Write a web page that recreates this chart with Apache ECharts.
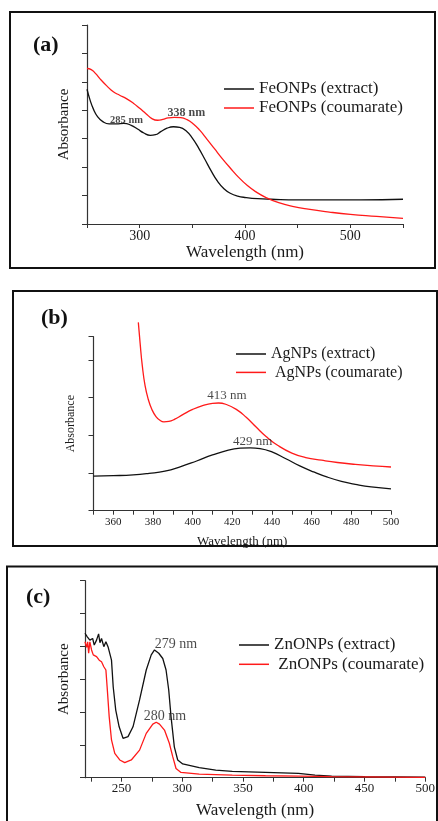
<!DOCTYPE html>
<html>
<head>
<meta charset="utf-8">
<script src="https://cdn.jsdelivr.net/npm/echarts@6/dist/echarts.min.js"></script>
<style>
  html, body { margin: 0; padding: 0; background: #fff; }
  #main { width: 438px; height: 821px; }
</style>
</head>
<body>
<div id="main"></div>
<script>
// (a) FeONPs
var feExtractX = [250, 253, 256, 260, 265, 271, 278, 285, 292, 298, 304, 310, 315, 320, 326, 332, 338, 344, 350, 356, 362, 368, 374, 380, 386, 393, 401, 412, 425, 450, 480, 510, 550];
var feExtractY = [4.74, 4.35, 4.05, 3.78, 3.60, 3.52, 3.52, 3.54, 3.47, 3.34, 3.20, 3.12, 3.14, 3.25, 3.37, 3.42, 3.40, 3.28, 3.02, 2.67, 2.27, 1.86, 1.50, 1.24, 1.08, 0.98, 0.93, 0.89, 0.87, 0.85, 0.85, 0.85, 0.87];
var feCoumX = [250, 254, 258, 263, 269, 275, 281, 287, 294, 300, 306, 312, 317, 322, 327, 333, 339, 345, 351, 357, 364, 371, 378, 386, 394, 402, 410, 420, 432, 445, 460, 480, 500, 525, 550];
var feCoumY = [5.47, 5.43, 5.30, 5.08, 4.85, 4.65, 4.53, 4.42, 4.25, 4.07, 3.88, 3.70, 3.65, 3.68, 3.73, 3.75, 3.74, 3.67, 3.52, 3.30, 2.98, 2.65, 2.32, 1.97, 1.64, 1.36, 1.14, 0.93, 0.75, 0.62, 0.52, 0.42, 0.34, 0.27, 0.20];

// (b) AgNPs
var agExtractX = [350, 360, 370, 378, 386, 394, 402, 410, 418, 424, 429, 434, 440, 447, 454, 461, 468, 475, 482, 490, 500];
var agExtractY = [0.92, 0.93, 0.95, 0.99, 1.05, 1.17, 1.32, 1.48, 1.61, 1.66, 1.67, 1.65, 1.56, 1.38, 1.19, 1.03, 0.89, 0.78, 0.70, 0.63, 0.58];
var agCoumX = [372.6, 373.5, 374.6, 376, 377.6, 379.5, 381.5, 383.5, 385.5, 388, 391, 395, 400, 405, 410, 413, 417, 422, 427, 432, 437, 443, 450, 457, 465, 473, 482, 491, 500];
var agCoumY = [5.0, 4.45, 3.85, 3.32, 2.96, 2.68, 2.50, 2.40, 2.36, 2.37, 2.43, 2.55, 2.69, 2.79, 2.85, 2.86, 2.82, 2.69, 2.48, 2.22, 1.97, 1.73, 1.53, 1.41, 1.34, 1.28, 1.23, 1.19, 1.16];

// (c) ZnONPs
var znExtractX = [220, 221.9, 224, 226.3, 227.6, 229.5, 231.2, 232.3, 233.6, 235.5, 237.2, 239.1, 240.4, 241.8, 243.2, 245.3, 248.1, 251.3, 255.4, 259.5, 264.9, 270.4, 274.5, 277.2, 278.6, 280.7, 284, 286.7, 288.9, 290.8, 293.5, 296.3, 300.4, 314, 327.6, 341.2, 368.5, 395.7, 409.3, 423, 450.2, 500];
var znExtractY = [4.40, 4.29, 4.19, 4.24, 4.04, 4.19, 4.38, 4.11, 4.24, 3.99, 4.14, 3.97, 3.91, 3.58, 2.77, 2.06, 1.55, 1.20, 1.25, 1.55, 2.37, 3.28, 3.74, 3.89, 3.94, 3.79, 3.63, 3.28, 2.67, 1.86, 0.94, 0.54, 0.42, 0.31, 0.23, 0.19, 0.16, 0.13, 0.08, 0.05, 0.03, 0.02];
var znCoumX = [220, 221.4, 222.2, 223, 224, 225.4, 226.8, 229.5, 231.7, 233.6, 235.5, 237.2, 238.2, 239.9, 241.8, 244.5, 248.6, 252.7, 258.1, 264.9, 270.4, 275.8, 278.6, 281.3, 285.4, 289.4, 292.2, 294.9, 299, 314, 341.2, 368.5, 395.7, 423, 500];
var znCoumY = [4.14, 3.97, 4.14, 3.79, 4.14, 3.89, 3.74, 3.69, 3.58, 3.53, 3.38, 3.28, 2.77, 1.86, 1.15, 0.74, 0.54, 0.46, 0.54, 0.84, 1.35, 1.63, 1.69, 1.63, 1.45, 1.05, 0.64, 0.28, 0.16, 0.11, 0.08, 0.06, 0.05, 0.03, 0.01];

// peak annotations: [text, wavelength, absorbance, font size]
var feNotes = [['285 nm', 287.6, 3.66, 10.5], ['338 nm', 344.3, 3.91, 12]];
var agNotes = [['413 nm', 417.3, 3.05, 13], ['429 nm', 430.2, 1.83, 13]];
var znNotes = [['279 nm', 294.8, 4.07, 14], ['280 nm', 285.8, 1.88, 14]];

var znTicks = [225, 250, 275, 300, 325, 350, 375, 400, 425, 450, 475, 500];
var znLabels = [250, 300, 350, 400, 450, 500];

function zip(xs, ys) {
    var out = [];
    for (var i = 0; i < xs.length; i++) out.push([xs[i], ys[i]]);
    return out;
}

var serif = "'Liberation Serif', 'Times New Roman', serif";
var ink = '#1a1a1a';

// peak labels as an invisible scatter series sitting on the grid's own scales
function noteSeries(idx, notes, bold) {
    return {
        type: 'scatter', xAxisIndex: idx, yAxisIndex: idx,
        symbolSize: 1, itemStyle: {color: 'rgba(0,0,0,0)'},
        silent: true, animation: false, z: 5,
        data: notes.map(function (n) {
            return {
                value: [n[1], n[2]],
                label: {
                    show: true, position: 'inside', formatter: n[0],
                    fontFamily: serif, fontSize: n[3],
                    fontWeight: bold ? 'bold' : 'normal', color: ink
                }
            };
        })
    };
}

function xAx(idx, min, max, name, opts) {
    var a = {
        gridIndex: idx, type: 'value', min: min, max: max,
        name: name, nameLocation: 'middle', nameGap: opts.nameGap,
        nameTextStyle: {fontFamily: serif, fontSize: opts.nameSize, color: ink},
        axisLine: {lineStyle: {color: '#333', width: 1.2}},
        axisTick: {inside: false, length: 4, lineStyle: {color: '#333'}},
        axisLabel: {fontFamily: serif, fontSize: opts.labelSize, color: ink, margin: opts.margin},
        splitLine: {show: false}
    };
    if (opts.interval) a.interval = opts.interval;
    if (opts.formatter) a.axisLabel.formatter = opts.formatter;
    return a;
}

function yAx(idx, max, name, opts) {
    return {
        gridIndex: idx, type: 'value', min: 0, max: max, interval: 1,
        name: name, nameLocation: 'middle', nameGap: opts.nameGap,
        nameTextStyle: {fontFamily: serif, fontSize: opts.nameSize, color: ink},
        axisLine: {show: true, lineStyle: {color: '#333', width: 1.2}},
        axisTick: {show: true, length: 5, lineStyle: {color: '#333'}},
        axisLabel: {show: false},
        splitLine: {show: false}
    };
}

function legendAt(left, top, names, size, gap) {
    return {
        orient: 'vertical', left: left, top: top, padding: 0,
        data: names, icon: 'rect', itemWidth: 30, itemHeight: 1.5,
        itemGap: gap, itemStyle: {borderWidth: 0},
        textStyle: {fontFamily: serif, fontSize: size, color: ink, lineHeight: size},
        selectedMode: false
    };
}

function line(name, xi, xs, ys, color, extra) {
    var s = {
        name: name, type: 'line', xAxisIndex: xi, yAxisIndex: xi,
        data: zip(xs, ys), showSymbol: false, symbol: 'none',
        smooth: 0.5,
        lineStyle: {color: color, width: 1.3}, itemStyle: {color: color},
        animation: false
    };
    for (var k in extra) s[k] = extra[k];
    return s;
}

var chart = echarts.init(document.getElementById('main'));

var titleStyle = {fontFamily: serif, fontSize: 22, fontWeight: 'bold', color: '#111'};

var option = {
    animation: false,
    backgroundColor: '#fff',
    title: [
        {text: '(a)', left: 33, top: 34, padding: 0, textStyle: titleStyle},
        {text: '(b)', left: 41, top: 307, padding: 0, textStyle: titleStyle},
        {text: '(c)', left: 26, top: 586, padding: 0, textStyle: titleStyle}
    ],
    grid: [
        {left: 87, top: 25, width: 316, height: 199},
        {left: 93.5, top: 336.7, width: 297.5, height: 174},
        {left: 85, top: 580.7, width: 342.7, height: 197}
    ],
    legend: [
        legendAt(224, 80.5, ['FeONPs (extract)', 'FeONPs (coumarate)'], 17, 2),
        legendAt(236, 346, ['AgNPs (extract)', ' AgNPs (coumarate)'], 16, 2.4),
        legendAt(239, 636.5, ['ZnONPs (extract)', ' ZnONPs (coumarate)'], 17, 2.3)
    ],
    xAxis: [
        xAx(0, 250, 550, 'Wavelength (nm)', {
            interval: 50, nameGap: 19, nameSize: 17, labelSize: 14, margin: 5,
            formatter: function (v) { return (v % 100 === 0 && v > 250 && v < 550) ? v : ''; }
        }),
        xAx(1, 350, 500, 'Wavelength (nm)', {
            interval: 10, nameGap: 24, nameSize: 13, labelSize: 11, margin: 6,
            formatter: function (v) { return v % 20 === 0 ? v : ''; }
        }),
        (function () {
            var a = xAx(2, 220, 500, 'Wavelength (nm)', {nameGap: 24, nameSize: 17, labelSize: 13, margin: 4});
            a.axisTick.customValues = znTicks;
            a.axisLabel.customValues = znLabels;
            return a;
        })()
    ],
    yAxis: [
        yAx(0, 7, 'Absorbance', {nameGap: 15.5, nameSize: 15}),
        yAx(1, 4.62, 'Absorbance', {nameGap: 16.5, nameSize: 12}),
        yAx(2, 6, 'Absorbance', {nameGap: 13.5, nameSize: 15})
    ],
    series: [
        line('FeONPs (extract)', 0, feExtractX, feExtractY, '#111', {}),
        line('FeONPs (coumarate)', 0, feCoumX, feCoumY, '#ff1a1a', {}),
        line('AgNPs (extract)', 1, agExtractX, agExtractY, '#111', {}),
        line(' AgNPs (coumarate)', 1, agCoumX, agCoumY, '#ff1a1a', {clip: false}),
        line('ZnONPs (extract)', 2, znExtractX, znExtractY, '#111', {smooth: false}),
        line(' ZnONPs (coumarate)', 2, znCoumX, znCoumY, '#ff1a1a', {smooth: false}),
        noteSeries(0, feNotes, true),
        noteSeries(1, agNotes, false),
        noteSeries(2, znNotes, false)
    ],
    graphic: [
        {type: 'rect', shape: {x: 10, y: 12, width: 425, height: 256}, style: {fill: 'none', stroke: '#111', lineWidth: 2}, z: -1},
        {type: 'rect', shape: {x: 13, y: 291, width: 424, height: 255}, style: {fill: 'none', stroke: '#111', lineWidth: 2}, z: -1},
        {type: 'rect', shape: {x: 7, y: 566.5, width: 430, height: 262}, style: {fill: 'none', stroke: '#111', lineWidth: 2}, z: -1}
    ]
};

chart.setOption(option);
</script>
</body>
</html>
